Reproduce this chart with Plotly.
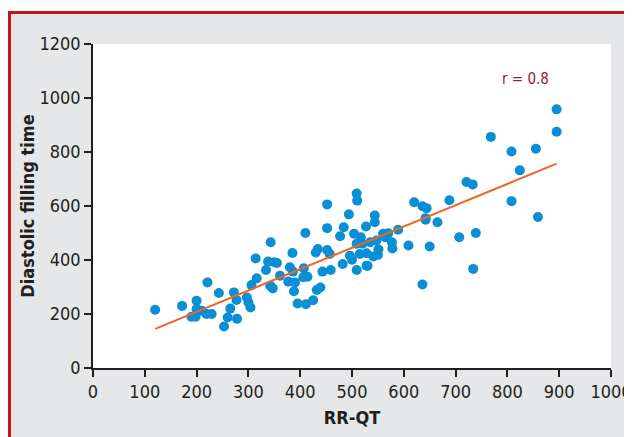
import numpy as np
import plotly.graph_objects as go

# RR-QT (x) and diastolic filling time (y)
rr_qt = [120, 172, 200, 221, 243, 200, 190, 198, 210, 219, 229, 253, 260, 265, 278, 272, 277, 297,
         300, 304, 306, 314, 316,
         452, 509, 510, 494, 452, 484, 477, 504, 517, 527, 410, 343, 385, 430, 434, 452, 457,
         338, 355, 334, 380, 386, 407, 361, 377, 390, 406, 414, 443, 459, 482, 496, 500, 509,
         515, 528, 342, 347, 388, 432, 439, 395, 411, 425, 350,
         721, 733, 620, 636, 644, 688, 642, 642, 665, 544, 544, 589, 560, 570, 520, 535, 547,
         564, 577, 578, 528, 541, 550, 609, 650, 707, 739, 530, 636, 734, 509, 551,
         895, 895, 768, 808, 855, 824, 808, 859]
dft = [216, 230, 249, 317, 278, 218, 190, 190, 212, 200, 200, 154, 187, 220, 182, 280, 252, 261,
       243, 224, 307, 406, 332,
       606, 646, 620, 569, 518, 521, 488, 497, 484, 524, 500, 466, 426, 428, 441, 437, 422,
       394, 389, 363, 373, 357, 369, 342, 320, 317, 336, 338, 357, 363, 385, 416, 401, 363,
       422, 379, 305, 295, 284, 289, 298, 239, 236, 251, 392,
       689, 680, 614, 599, 592, 621, 555, 549, 540, 565, 540, 512, 497, 499, 460, 466, 472,
       484, 466, 443, 425, 413, 419, 454, 450, 484, 500, 379, 309, 367, 460, 440,
       958, 875, 856, 802, 812, 732, 618, 559]

x_ticks = [0, 100, 200, 300, 400, 500, 600, 700, 800, 900, 1000]
y_ticks = [0, 200, 400, 600, 800, 1000, 1200]
r_label = "r = 0.8"

xa = np.array(rr_qt, dtype=float)
ya = np.array(dft, dtype=float)
slope, intercept = np.polyfit(xa, ya, 1)
fit_x = np.array([xa.min(), xa.max()])
fit_y = slope * fit_x + intercept

AXIS = "#231f20"
FONT = "Liberation Sans Narrow, DejaVu Sans Condensed, Roboto Condensed, Roboto, sans-serif"

fig = go.Figure()
fig.add_trace(go.Scatter(x=rr_qt, y=dft, mode="markers",
                         marker=dict(size=10, color="#0a8fd4", line=dict(width=0)),
                         showlegend=False, hoverinfo="x+y"))
fig.add_trace(go.Scatter(x=fit_x, y=fit_y, mode="lines",
                         line=dict(color="#f26522", width=2), showlegend=False))

# Figure sits 8px in from the page corner (body margin); sizes in figure pixels
W, H = 624, 429
L, R, T, B = 85, 603, 36, 360
pw, ph = R - L, B - T
def px(p):
    return (p - L) / pw
def py(p):
    return (B - p) / ph

shapes = [
    dict(type="rect", xref="paper", yref="paper", x0=px(0), x1=px(W), y0=py(3), y1=py(0),
         fillcolor="white", line=dict(width=0), layer="below"),
    dict(type="line", xref="paper", yref="paper", x0=px(0), x1=px(W), y0=py(4.5), y1=py(4.5),
         line=dict(color="#c4161c", width=3)),
    dict(type="line", xref="paper", yref="paper", x0=px(1.5), x1=px(1.5), y0=py(3), y1=py(H),
         line=dict(color="#c4161c", width=3)),
]

fig.update_layout(
    width=W, height=H,
    margin=dict(l=L, r=W - R, t=T, b=H - B, pad=0, autoexpand=False),
    paper_bgcolor="#e6e7e8",
    plot_bgcolor="white",
    font=dict(family=FONT, color=AXIS, size=18),
    shapes=shapes,
    annotations=[dict(x=834, y=1072, xref="x", yref="y", text=r_label, showarrow=False,
                      font=dict(family=FONT, size=15, color="#a3162c"))],
)
fig.update_xaxes(range=[0, 1000], tickvals=x_ticks, ticktext=[str(v) for v in x_ticks],
                 automargin=False, ticklabeloverflow="allow",
                 showgrid=False, zeroline=False, showline=True, linecolor=AXIS, linewidth=1.5,
                 ticks="outside", ticklen=7, tickwidth=1.5, tickcolor=AXIS,
                 tickfont=dict(family=FONT, size=18, color=AXIS),
                 title=dict(text="<b>RR-QT</b>", font=dict(family=FONT, size=18, color=AXIS), standoff=10))
fig.update_yaxes(range=[0, 1200], tickvals=y_ticks, ticktext=[str(v) for v in y_ticks],
                 automargin=False,
                 showgrid=False, zeroline=False, showline=True, linecolor=AXIS, linewidth=1.5,
                 ticks="outside", ticklen=7, tickwidth=1.5, tickcolor=AXIS,
                 tickfont=dict(family=FONT, size=18, color=AXIS),
                 title=dict(text="<b>Diastolic filling time</b>", font=dict(family=FONT, size=18, color=AXIS), standoff=0))

fig.write_html("out.html")
